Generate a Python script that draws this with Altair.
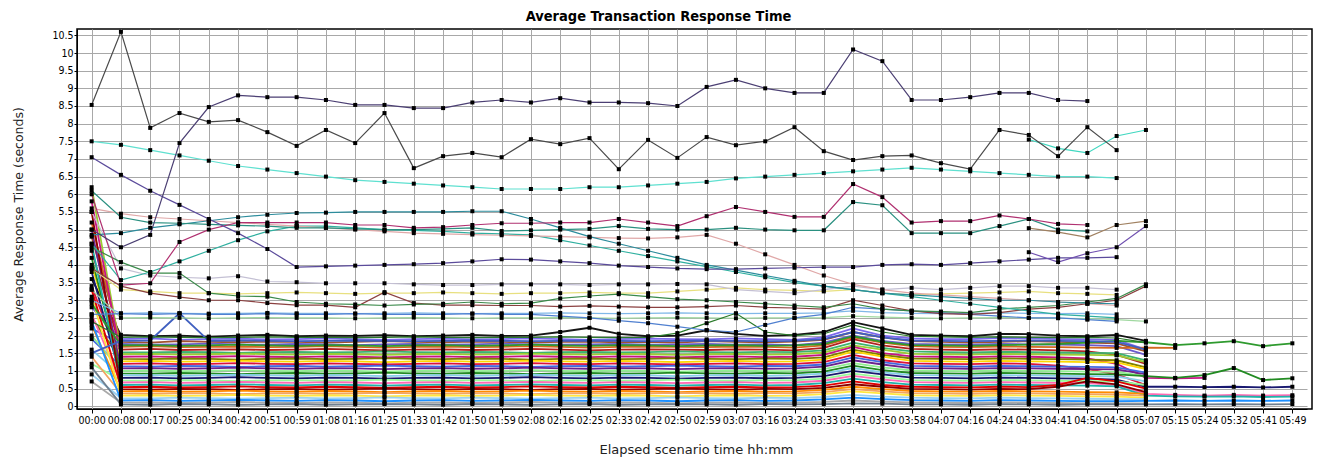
import altair as alt
import pandas as pd

time_labels = ["00:00", "00:08", "00:17", "00:25", "00:34", "00:42", "00:51", "00:59",
               "01:08", "01:16", "01:25", "01:33", "01:42", "01:50", "01:59", "02:08",
               "02:16", "02:25", "02:33", "02:42", "02:50", "02:59", "03:07", "03:16",
               "03:24", "03:33", "03:41", "03:50", "03:58", "04:07", "04:16", "04:24",
               "04:33", "04:41", "04:50", "04:58", "05:07", "05:15", "05:24", "05:32",
               "05:41", "05:49"]
y_ticks = [0, 0.5, 1, 1.5, 2, 2.5, 3, 3.5, 4, 4.5, 5, 5.5, 6, 6.5, 7, 7.5, 8, 8.5,
           9, 9.5, 10, 10.5]

# ---- upper series -------------------------------------------------------
up_a = [5.0, 4.5, 4.85, 7.45, 8.47, 8.8, 8.75, 8.75, 8.67, 8.53, 8.53, 8.44, 8.44,
        8.6, 8.67, 8.6, 8.72, 8.6, 8.6, 8.58, 8.5, 9.04, 9.24, 9.0, 8.87, 8.87,
        10.1, 9.77, 8.67, 8.67, 8.75, 8.87, 8.87, 8.67, 8.64]
up_b = [8.53, 10.6, 7.88, 8.3, 8.05, 8.1, 7.76, 7.37, 7.82, 7.45, 8.3, 6.74, 7.08,
        7.17, 7.05, 7.56, 7.42, 7.59, 6.71, 7.54, 7.03, 7.62, 7.39, 7.5, 7.9, 7.22,
        6.97, 7.08, 7.1, 6.88, 6.71, 7.82, 7.68, 7.08, 7.9, 7.25]
up_c = [7.5, 7.4, 7.25, 7.1, 6.95, 6.8, 6.7, 6.6, 6.5, 6.4, 6.35, 6.3, 6.25, 6.2,
        6.15, 6.15, 6.15, 6.2, 6.2, 6.25, 6.3, 6.35, 6.45, 6.5, 6.55, 6.6, 6.65, 6.7,
        6.75, 6.7, 6.65, 6.6, 6.55, 6.5, 6.5, 6.46]
up_c2 = [7.55, 7.3, 7.17, 7.65, 7.82]
up_d = [7.05, 6.55, 6.1, 5.7, 5.3, 4.9, 4.45, 3.94, 3.96, 3.98, 4.0, 4.02, 4.05, 4.1,
        4.16, 4.15, 4.1, 4.05, 3.98, 3.94, 3.9, 3.88, 3.88, 3.9, 3.92, 3.94, 3.94, 4.0,
        4.02, 4.0, 4.05, 4.1, 4.15, 4.2, 4.2, 4.22]
up_e = [6.0, 3.43, 3.48, 4.65, 5.0, 5.2, 5.2, 5.2, 5.2, 5.13, 5.13, 5.05, 5.07, 5.13,
        5.18, 5.18, 5.2, 5.2, 5.3, 5.2, 5.1, 5.38, 5.64, 5.5, 5.36, 5.36, 6.29, 5.92,
        5.2, 5.24, 5.24, 5.4, 5.3, 5.16, 5.13]
up_f = [6.1, 5.35, 5.2, 5.18, 5.15, 5.12, 5.1, 5.05, 5.05, 5.02, 5.0, 5.0, 5.02, 5.05,
        4.96, 4.98, 5.0, 5.02, 5.1, 5.02, 5.0, 5.0, 5.05, 5.0, 4.98, 4.98, 5.78, 5.69,
        4.9, 4.9, 4.9, 5.1, 5.3, 5.0, 4.95]
up_g = [4.85, 4.9, 5.05, 5.15, 5.25, 5.35, 5.42, 5.47, 5.48, 5.5, 5.5, 5.5, 5.5, 5.52,
        5.52, 5.3, 5.05, 4.8, 4.6, 4.4, 4.2, 4.0, 3.85, 3.7, 3.55, 3.4, 3.3, 3.2, 3.15,
        3.1, 3.05, 3.0, 3.0, 2.95, 2.92, 2.9]
up_h = [5.6, 5.45, 5.35, 5.3, 5.25, 5.2, 5.15, 5.1, 5.05, 5.0, 4.95, 4.9, 4.88, 4.86,
        4.84, 4.82, 4.8, 4.78, 4.76, 4.75, 4.78, 4.85, 4.6, 4.3, 4.0, 3.7, 3.45, 3.3,
        3.2, 3.15, 3.1, 3.05, 3.0, 2.95, 2.9, 2.85]
up_i = [4.6, 3.57, 3.8, 4.1, 4.4, 4.7, 4.95, 5.1, 5.1, 5.05, 5.0, 4.98, 4.95, 4.9,
        4.88, 4.85, 4.7, 4.55, 4.4, 4.25, 4.1, 3.95, 3.8, 3.65, 3.5, 3.4, 3.3, 3.2,
        3.1, 3.0, 2.9, 2.8, 2.7, 2.6, 2.55, 2.5]
up_j = [4.5, 4.08, 3.77, 3.77, 3.2, 3.12, 3.1, 2.95, 2.9, 2.88, 2.85, 2.88, 2.9, 2.95,
        2.9, 2.92, 3.05, 3.12, 3.17, 3.1, 3.03, 3.0, 2.95, 2.9, 2.85, 2.8, 2.9, 2.75,
        2.7, 2.68, 2.65, 2.75, 2.8, 2.85, 2.95, 3.05, 3.45]
up_k = [3.9, 3.4, 3.2, 3.09, 3.0, 3.0, 2.92, 2.86, 2.86, 2.8, 3.23, 2.92, 2.86, 2.86,
        2.85, 2.85, 2.82, 2.84, 2.82, 2.8, 2.8, 2.82, 2.85, 2.8, 2.78, 2.75, 3.0, 2.85,
        2.7, 2.62, 2.6, 2.65, 2.75, 2.8, 2.9, 3.0, 3.4]
up_l = [5.5, 3.9, 3.7, 3.65, 3.62, 3.68, 3.53, 3.51, 3.48, 3.48, 3.48, 3.45, 3.43,
        3.43, 3.45, 3.45, 3.45, 3.43, 3.45, 3.45, 3.46, 3.45, 3.3, 3.25, 3.2, 3.3, 3.4,
        3.3, 3.35, 3.3, 3.35, 3.4, 3.4, 3.35, 3.35, 3.3]
up_m = [3.9, 3.3, 3.25, 3.2, 3.2, 3.18, 3.2, 3.22, 3.2, 3.18, 3.2, 3.2, 3.22, 3.2,
        3.18, 3.2, 3.2, 3.22, 3.2, 3.2, 3.25, 3.3, 3.35, 3.3, 3.28, 3.25, 3.3, 3.2,
        3.15, 3.18, 3.2, 3.22, 3.25, 3.2, 3.18, 3.15]
up_n = [2.6, 2.62, 2.6, 2.62, 2.6, 2.6, 2.62, 2.6, 2.6, 2.62, 2.6, 2.6, 2.6, 2.62,
        2.6, 2.6, 2.55, 2.5, 2.42, 2.35, 2.25, 2.15, 2.1, 2.3, 2.5, 2.6, 2.8, 2.75,
        2.7, 2.65, 2.6, 2.55, 2.5, 2.5, 2.45, 2.4]
up_p = [4.36, 4.08, 4.33, 4.5, 5.1]
up_q = [5.04, 4.93, 4.78, 5.13, 5.24]
mid_1 = [3.0, 2.63, 2.64, 2.63, 2.62, 2.63, 2.64, 2.63, 2.63, 2.62, 2.63, 2.64, 2.63,
         2.62, 2.63, 2.63, 2.64, 2.63, 2.62, 2.63, 2.64, 2.63, 2.62, 2.63, 2.63, 2.64,
         2.7, 2.65, 2.63, 2.62, 2.63, 2.64, 2.63, 2.62, 2.63, 2.6]
mid_2 = [3.3, 2.5, 2.51, 2.5, 2.49, 2.5, 2.51, 2.5, 2.5, 2.49, 2.5, 2.51, 2.5, 2.49,
         2.5, 2.5, 2.51, 2.5, 2.49, 2.5, 2.51, 2.5, 2.49, 2.5, 2.5, 2.51, 2.55, 2.52,
         2.5, 2.49, 2.5, 2.51, 2.5, 2.49, 2.48, 2.45, 2.4]
mid_3 = [2.4, 1.95, 1.96, 1.95, 1.94, 1.95, 1.96, 1.95, 1.95, 1.94, 1.95, 1.96, 1.95,
         1.94, 1.95, 1.95, 1.96, 1.95, 1.94, 1.95, 2.07, 2.35, 2.63, 2.1, 2.0, 2.05,
         2.3, 2.1, 1.98, 1.96, 1.95, 1.96, 1.95, 1.94, 1.95, 1.93, 1.8]

# ---- dense lower band -----------------------------------------------------
low01 = [3.6, 2.02, 1.98, 2.0, 1.97, 2.0, 2.02, 1.98, 2.0, 1.99, 2.01, 1.98, 2.0, 2.02,
         1.99, 2.0, 2.1, 2.22, 2.05, 1.98, 2.0, 2.15, 2.05, 1.99, 2.02, 2.1, 2.38, 2.2,
         2.02, 2.0, 1.98, 2.05, 2.04, 2.0, 1.98, 2.02, 1.85]
low02 = [2.8, 1.9, 1.92, 1.88, 1.9, 1.91, 1.89, 1.9, 1.92, 1.9, 1.88, 1.9, 1.91, 1.89,
         1.9, 1.92, 1.9, 1.88, 1.9, 1.91, 1.9, 1.89, 1.92, 1.9, 1.88, 1.95, 2.2, 2.0,
         1.92, 1.9, 1.9, 1.93, 1.92, 1.9, 1.89, 1.88, 1.6]
low03 = [4.8, 1.82, 1.8, 1.84, 1.82, 1.81, 1.83, 1.82, 1.8, 1.82, 1.84, 1.82, 1.81,
         1.83, 1.82, 1.8, 1.82, 1.83, 1.81, 1.82, 1.8, 1.84, 1.82, 1.81, 1.83, 1.88,
         2.1, 1.95, 1.84, 1.82, 1.8, 1.82, 1.84, 1.82, 1.8, 1.78, 1.55]
low04 = [2.2, 1.76, 1.74, 1.75, 1.77, 1.75, 1.74, 1.76, 1.75, 1.73, 1.75, 1.76, 1.74,
         1.75, 1.77, 1.75, 1.74, 1.75, 1.76, 1.74, 1.75, 1.76, 1.74, 1.75, 1.73, 1.8,
         2.0, 1.85, 1.76, 1.75, 1.74, 1.76, 1.75, 1.74, 1.73, 1.7, 1.45]
low05 = [5.2, 1.68, 1.7, 1.67, 1.68, 1.69, 1.67, 1.68, 1.7, 1.68, 1.66, 1.68, 1.69,
         1.67, 1.68, 1.7, 1.68, 1.66, 1.68, 1.69, 1.68, 1.67, 1.69, 1.68, 1.66, 1.72,
         1.95, 1.8, 1.7, 1.68, 1.67, 1.69, 1.68, 1.67, 1.66, 1.65, 1.66, 1.65]
low06 = [4.4, 1.6, 1.62, 1.59, 1.6, 1.61, 1.59, 1.6, 1.62, 1.6, 1.58, 1.6, 1.61, 1.59,
         1.6, 1.62, 1.6, 1.58, 1.6, 1.61, 1.6, 1.59, 1.61, 1.6, 1.58, 1.65, 1.9, 1.72,
         1.62, 1.6, 1.59, 1.61, 1.6, 1.58, 1.55, 1.45, 1.2]
low07 = [3.0, 1.53, 1.52, 1.54, 1.53, 1.51, 1.53, 1.54, 1.52, 1.53, 1.55, 1.53, 1.52,
         1.54, 1.53, 1.51, 1.53, 1.54, 1.52, 1.53, 1.55, 1.53, 1.52, 1.54, 1.53, 1.58,
         1.8, 1.65, 1.55, 1.53, 1.52, 1.54, 1.53, 1.52, 1.51, 1.5, 1.3]
low08 = [6.2, 1.47, 1.48, 1.46, 1.47, 1.49, 1.47, 1.46, 1.48, 1.47, 1.45, 1.47, 1.48,
         1.46, 1.47, 1.49, 1.47, 1.46, 1.48, 1.47, 1.45, 1.47, 1.48, 1.46, 1.47, 1.52,
         1.72, 1.6, 1.48, 1.47, 1.46, 1.48, 1.47, 1.46, 1.45, 1.44, 1.25]
low09 = [5.8, 1.4, 1.41, 1.39, 1.4, 1.42, 1.4, 1.39, 1.41, 1.4, 1.38, 1.4, 1.41, 1.39,
         1.4, 1.42, 1.4, 1.39, 1.41, 1.4, 1.38, 1.4, 1.41, 1.39, 1.4, 1.45, 1.68, 1.5,
         1.41, 1.4, 1.39, 1.41, 1.4, 1.38, 1.35, 1.2, 0.8, 0.79, 0.8]
low10 = [2.5, 1.34, 1.33, 1.35, 1.34, 1.32, 1.34, 1.35, 1.33, 1.34, 1.36, 1.34, 1.33,
         1.35, 1.34, 1.32, 1.34, 1.35, 1.33, 1.34, 1.36, 1.34, 1.33, 1.35, 1.34, 1.38,
         1.6, 1.45, 1.35, 1.34, 1.33, 1.35, 1.34, 1.33, 1.32, 1.3, 1.1]
low11 = [4.0, 1.27, 1.28, 1.26, 1.27, 1.29, 1.27, 1.26, 1.28, 1.27, 1.25, 1.27, 1.28,
         1.26, 1.27, 1.29, 1.27, 1.26, 1.28, 1.27, 1.25, 1.27, 1.28, 1.26, 1.27, 1.32,
         1.55, 1.4, 1.28, 1.27, 1.26, 1.28, 1.27, 1.26, 1.25, 1.24, 1.05]
low12 = [3.4, 1.2, 1.21, 1.19, 1.2, 1.22, 1.2, 1.19, 1.21, 1.2, 1.18, 1.2, 1.21, 1.19,
         1.2, 1.22, 1.2, 1.19, 1.21, 1.2, 1.18, 1.2, 1.21, 1.19, 1.2, 1.25, 1.45, 1.3,
         1.21, 1.2, 1.19, 1.21, 1.2, 1.15, 1.05, 0.9, 0.6]
low13 = [1.9, 1.13, 1.12, 1.14, 1.13, 1.11, 1.13, 1.14, 1.12, 1.13, 1.15, 1.13, 1.12,
         1.14, 1.13, 1.11, 1.13, 1.14, 1.12, 1.13, 1.15, 1.13, 1.12, 1.14, 1.13, 1.18,
         1.38, 1.25, 1.14, 1.13, 1.12, 1.14, 1.13, 1.12, 1.11, 1.1, 0.95]
low14 = [5.0, 1.07, 1.08, 1.06, 1.07, 1.09, 1.07, 1.06, 1.08, 1.07, 1.05, 1.07, 1.08,
         1.06, 1.07, 1.09, 1.07, 1.06, 1.08, 1.07, 1.05, 1.07, 1.08, 1.06, 1.07, 1.12,
         1.3, 1.18, 1.08, 1.07, 1.06, 1.08, 1.07, 1.06, 1.05, 1.04, 0.9]
low15 = [2.0, 1.0, 1.01, 0.99, 1.0, 1.02, 1.0, 0.99, 1.01, 1.0, 0.98, 1.0, 1.01, 0.99,
         1.0, 1.02, 1.0, 0.99, 1.01, 1.0, 0.98, 1.0, 1.01, 0.99, 1.0, 1.05, 1.22, 1.1,
         1.01, 1.0, 0.99, 1.01, 1.0, 0.99, 0.98, 0.97, 0.85]
low16 = [4.2, 0.93, 0.92, 0.94, 0.93, 0.91, 0.93, 0.94, 0.92, 0.93, 0.95, 0.93, 0.92,
         0.94, 0.93, 0.91, 0.93, 0.94, 0.92, 0.93, 0.95, 0.93, 0.92, 0.94, 0.93, 0.98,
         1.15, 1.02, 0.94, 0.93, 0.92, 0.94, 0.93, 0.92, 0.91, 0.9, 0.85, 0.8, 0.88,
         1.08, 0.74, 0.79]
low17 = [1.6, 0.87, 0.88, 0.86, 0.87, 0.89, 0.87, 0.86, 0.88, 0.87, 0.85, 0.87, 0.88,
         0.86, 0.87, 0.89, 0.87, 0.86, 0.88, 0.87, 0.85, 0.87, 0.88, 0.86, 0.87, 0.92,
         1.08, 0.96, 0.88, 0.87, 0.86, 0.88, 0.87, 0.86, 0.85, 0.84, 0.7]
low18 = [3.8, 0.8, 0.81, 0.79, 0.8, 0.82, 0.8, 0.79, 0.81, 0.8, 0.78, 0.8, 0.81, 0.79,
         0.8, 0.82, 0.8, 0.79, 0.81, 0.8, 0.78, 0.8, 0.81, 0.79, 0.8, 0.85, 1.0, 0.9,
         0.81, 0.8, 0.79, 0.81, 0.8, 0.79, 0.78, 0.75, 0.55, 0.55, 0.54, 0.55, 0.53, 0.55]
low19 = [1.2, 0.73, 0.72, 0.74, 0.73, 0.71, 0.73, 0.74, 0.72, 0.73, 0.75, 0.73, 0.72,
         0.74, 0.73, 0.71, 0.73, 0.74, 0.72, 0.73, 0.75, 0.73, 0.72, 0.74, 0.73, 0.78,
         0.92, 0.82, 0.74, 0.73, 0.72, 0.74, 0.73, 0.72, 0.71, 0.7, 0.6]
low20 = [2.6, 0.67, 0.68, 0.66, 0.67, 0.69, 0.67, 0.66, 0.68, 0.67, 0.65, 0.67, 0.68,
         0.66, 0.67, 0.69, 0.67, 0.66, 0.68, 0.67, 0.65, 0.67, 0.68, 0.66, 0.67, 0.72,
         0.86, 0.76, 0.68, 0.67, 0.66, 0.68, 0.67, 0.66, 0.65, 0.6, 0.35, 0.32, 0.3,
         0.32, 0.3, 0.31]
low21 = [4.6, 0.6, 0.61, 0.59, 0.6, 0.62, 0.6, 0.59, 0.61, 0.6, 0.58, 0.6, 0.61, 0.59,
         0.6, 0.62, 0.6, 0.59, 0.61, 0.6, 0.58, 0.6, 0.61, 0.59, 0.6, 0.65, 0.78, 0.68,
         0.61, 0.6, 0.59, 0.61, 0.6, 0.59, 0.58, 0.56, 0.3, 0.28, 0.27, 0.28, 0.26, 0.27]
low22 = [3.3, 0.54, 0.55, 0.53, 0.54, 0.56, 0.54, 0.53, 0.55, 0.54, 0.52, 0.54, 0.55,
         0.53, 0.54, 0.56, 0.54, 0.53, 0.55, 0.54, 0.52, 0.54, 0.55, 0.53, 0.54, 0.58,
         0.7, 0.6, 0.55, 0.54, 0.53, 0.55, 0.54, 0.6, 0.8, 0.7, 0.5]
low23 = [5.5, 0.48, 0.47, 0.49, 0.48, 0.46, 0.48, 0.49, 0.47, 0.48, 0.5, 0.48, 0.47,
         0.49, 0.48, 0.46, 0.48, 0.49, 0.47, 0.48, 0.5, 0.48, 0.47, 0.49, 0.48, 0.52,
         0.62, 0.55, 0.49, 0.48, 0.47, 0.49, 0.48, 0.55, 0.7, 0.62, 0.4]
low24 = [2.3, 0.42, 0.43, 0.41, 0.42, 0.44, 0.42, 0.41, 0.43, 0.42, 0.4, 0.42, 0.43,
         0.41, 0.42, 0.44, 0.42, 0.41, 0.43, 0.42, 0.4, 0.42, 0.43, 0.41, 0.42, 0.46,
         0.55, 0.48, 0.43, 0.42, 0.41, 0.43, 0.42, 0.41, 0.4, 0.39, 0.35]
low25 = [1.4, 0.36, 0.35, 0.37, 0.36, 0.34, 0.36, 0.37, 0.35, 0.36, 0.38, 0.36, 0.35,
         0.37, 0.36, 0.34, 0.36, 0.37, 0.35, 0.36, 0.38, 0.36, 0.35, 0.37, 0.36, 0.4,
         0.48, 0.42, 0.37, 0.36, 0.35, 0.37, 0.36, 0.35, 0.34, 0.33, 0.3]
low26 = [3.1, 0.3, 0.31, 0.29, 0.3, 0.32, 0.3, 0.29, 0.31, 0.3, 0.28, 0.3, 0.31, 0.29,
         0.3, 0.32, 0.3, 0.29, 0.31, 0.3, 0.28, 0.3, 0.31, 0.29, 0.3, 0.34, 0.42, 0.36,
         0.31, 0.3, 0.29, 0.31, 0.3, 0.29, 0.28, 0.27, 0.24]
low27 = [0.9, 0.23, 0.22, 0.24, 0.23, 0.21, 0.23, 0.24, 0.22, 0.23, 0.25, 0.23, 0.22,
         0.24, 0.23, 0.21, 0.23, 0.24, 0.22, 0.23, 0.25, 0.23, 0.22, 0.24, 0.23, 0.26,
         0.32, 0.27, 0.24, 0.23, 0.22, 0.24, 0.23, 0.22, 0.21, 0.2, 0.2]
low28 = [2.4, 0.16, 0.17, 0.15, 0.16, 0.18, 0.16, 0.15, 0.17, 0.16, 0.14, 0.16, 0.17,
         0.15, 0.16, 0.18, 0.16, 0.15, 0.17, 0.16, 0.14, 0.16, 0.17, 0.15, 0.16, 0.19,
         0.24, 0.2, 0.17, 0.16, 0.15, 0.17, 0.16, 0.15, 0.14, 0.14, 0.15, 0.16, 0.15,
         0.16, 0.15, 0.16]
low29 = [0.7, 0.1, 0.11, 0.09, 0.1, 0.12, 0.1, 0.09, 0.11, 0.1, 0.08, 0.1, 0.11, 0.09,
         0.1, 0.12, 0.1, 0.09, 0.11, 0.1, 0.08, 0.1, 0.11, 0.09, 0.1, 0.12, 0.16, 0.13,
         0.11, 0.1, 0.09, 0.11, 0.1, 0.09, 0.08, 0.08, 0.08]
low30 = [1.1, 0.05, 0.04, 0.06, 0.05, 0.04, 0.05, 0.06, 0.04, 0.05, 0.06, 0.05, 0.04,
         0.06, 0.05, 0.04, 0.05, 0.06, 0.04, 0.05, 0.06, 0.05, 0.04, 0.06, 0.05, 0.06,
         0.08, 0.07, 0.05, 0.05, 0.04, 0.06, 0.05, 0.04, 0.05, 0.05, 0.05, 0.06, 0.05,
         0.06, 0.05, 0.06]
low31 = [2.9, 1.72, 1.73, 1.71, 1.72, 1.74, 1.72, 1.71, 1.73, 1.72, 1.7, 1.72, 1.73,
         1.71, 1.72, 1.74, 1.72, 1.71, 1.73, 1.72, 1.7, 1.72, 1.73, 1.71, 1.72, 1.76,
         1.98, 1.82, 1.73, 1.72, 1.71, 1.73, 1.74, 1.76, 1.8, 1.85, 1.81, 1.73, 1.78,
         1.84, 1.7, 1.78]
low32 = [1.5, 1.85, 1.86, 2.63, 1.85, 1.86, 1.85, 1.84, 1.85, 1.86, 1.85, 1.84, 1.85,
         1.86, 1.85, 1.84, 1.85, 1.86, 1.85, 1.84, 1.85, 1.86, 1.85, 1.84, 1.85, 1.9,
         2.1, 1.95, 1.86, 1.85, 1.84, 1.85, 1.86, 1.85, 1.84, 1.82, 1.6]

# (name, values, colour, first time label, group)
series = [
    ("low01", low01, "#151515", "00:00", "low"),
    ("low02", low02, "#7b68ee", "00:00", "low"),
    ("low03", low03, "#a0522d", "00:00", "low"),
    ("low04", low04, "#6a5acd", "00:00", "low"),
    ("low05", low05, "#d2691e", "00:00", "low"),
    ("low06", low06, "#b22222", "00:00", "low"),
    ("low07", low07, "#3cb371", "00:00", "low"),
    ("low08", low08, "#9acd32", "00:00", "low"),
    ("low09", low09, "#c71585", "00:00", "low"),
    ("low10", low10, "#808000", "00:00", "low"),
    ("low11", low11, "#ffd700", "00:00", "low"),
    ("low12", low12, "#dc143c", "00:00", "low"),
    ("low13", low13, "#4169e1", "00:00", "low"),
    ("low14", low14, "#6b238e", "00:00", "low"),
    ("low15", low15, "#90ee90", "00:00", "low"),
    ("low16", low16, "#228b22", "00:00", "low"),
    ("low17", low17, "#87ceeb", "00:00", "low"),
    ("low18", low18, "#191970", "00:00", "low"),
    ("low19", low19, "#98fb98", "00:00", "low"),
    ("low20", low20, "#ff69b4", "00:00", "low"),
    ("low21", low21, "#20b2aa", "00:00", "low"),
    ("low22", low22, "#e00000", "00:00", "low"),
    ("low23", low23, "#8b0000", "00:00", "low"),
    ("low24", low24, "#ff8c00", "00:00", "low"),
    ("low25", low25, "#f4a460", "00:00", "low"),
    ("low26", low26, "#ffe640", "00:00", "low"),
    ("low27", low27, "#9ad0f0", "00:00", "low"),
    ("low28", low28, "#1e90ff", "00:00", "low"),
    ("low29", low29, "#a9a9a9", "00:00", "low"),
    ("low30", low30, "#708090", "00:00", "low"),
    ("low31", low31, "#2e9a2e", "00:00", "low"),
    ("low32", low32, "#4060c0", "00:00", "low"),
    ("mid1", mid_1, "#80b8e8", "00:00", "up"),
    ("mid2", mid_2, "#a0d8a0", "00:00", "up"),
    ("mid3", mid_3, "#2a7a2a", "00:00", "up"),
    ("n", up_n, "#5080d0", "00:00", "up"),
    ("m", up_m, "#e8e080", "00:00", "up"),
    ("l", up_l, "#c4c0d4", "00:00", "up"),
    ("k", up_k, "#8b4040", "00:00", "up"),
    ("j", up_j, "#3a8a4a", "00:00", "up"),
    ("i", up_i, "#30b0a0", "00:00", "up"),
    ("h", up_h, "#e0a8a8", "00:00", "up"),
    ("g", up_g, "#2c8c9c", "00:00", "up"),
    ("f", up_f, "#2a9080", "00:00", "up"),
    ("e", up_e, "#b03070", "00:00", "up"),
    ("d", up_d, "#5b4b9b", "00:00", "up"),
    ("p", up_p, "#7050b0", "04:33", "up"),
    ("q", up_q, "#a08060", "04:33", "up"),
    ("c", up_c, "#5fe0d0", "00:00", "up"),
    ("c2", up_c2, "#40d8c0", "04:33", "up"),
    ("b", up_b, "#4a4a4a", "00:00", "up"),
    ("a", up_a, "#4b3f73", "00:00", "up"),
]

rows = []
for name, vals, colour, start, group in series:
    i0 = time_labels.index(start)
    for k, v in enumerate(vals):
        rows.append({"series": name, "time": time_labels[i0 + k], "step": i0 + k,
                     "rt": v, "group": group})
df = pd.DataFrame(rows)

names = [s[0] for s in series]
colours = [s[2] for s in series]

LABEL_FONT = "DejaVu Sans Condensed, Liberation Sans Narrow, DejaVu Sans, sans-serif"

x_enc = alt.X(
    "time:O", sort=time_labels,
    scale=alt.Scale(type="point", range=[0, 1230]),
    axis=alt.Axis(title="Elapsed scenario time hh:mm", labelAngle=0, labelOverlap=False,
                  grid=True, gridColor="#a8a8a8", gridWidth=1, tickSize=4,
                  tickColor="black", domainColor="black", labelFont=LABEL_FONT,
                  labelFontSize=10.5, labelColor="black", labelPadding=2,
                  titleFont="DejaVu Sans", titleFontSize=13, titleFontWeight="normal",
                  titleColor="#222222", titleX=619, titleY=40, titleAlign="center",
                  titleBaseline="middle"),
)
y_enc = alt.Y(
    "rt:Q",
    scale=alt.Scale(domain=[-0.08, 10.68], nice=False, zero=False),
    axis=alt.Axis(title="Average Response Time (seconds)", values=y_ticks, format="~g",
                  grid=True, gridColor="#a8a8a8", gridWidth=1, tickSize=3,
                  tickColor="black", domainColor="black", labelFont=LABEL_FONT,
                  labelFontSize=10.5, labelColor="black", labelPadding=1,
                  titleFont="DejaVu Sans", titleFontSize=12.5, titleFontWeight="normal",
                  titleColor="#222222", titleX=-59, titleY=185, titleAngle=270,
                  titleAlign="center", titleBaseline="middle"),
)
colour_enc = alt.Color("series:N", scale=alt.Scale(domain=names, range=colours),
                       legend=None)

base = alt.Chart(df).encode(x=x_enc, y=y_enc)

low_lines = base.transform_filter(alt.datum.group == "low").mark_line(
    strokeWidth=1.8).encode(color=colour_enc, order="step:Q")
up_lines = base.transform_filter(alt.datum.group == "up").mark_line(
    strokeWidth=1.2).encode(color=colour_enc, order="step:Q")
points = base.mark_point(shape="square", filled=True, size=16, color="black",
                         opacity=1)

chart = alt.layer(low_lines, up_lines, points).properties(
    width=1235, height=380,
    padding={"left": 69, "top": 21, "right": 10, "bottom": 53},
    autosize=alt.AutoSizeParams(type="none"),
    background="white",
    title=alt.TitleParams("Average Transaction Response Time",
                          font="DejaVu Sans Condensed, DejaVu Sans", fontSize=14.5,
                          fontWeight="bold", color="black", anchor="middle",
                          frame="group", dx=-36, offset=5),
).configure_view(stroke="black", strokeWidth=1.5)

chart.save("out.html", embed_options={"renderer": "svg", "actions": False})
